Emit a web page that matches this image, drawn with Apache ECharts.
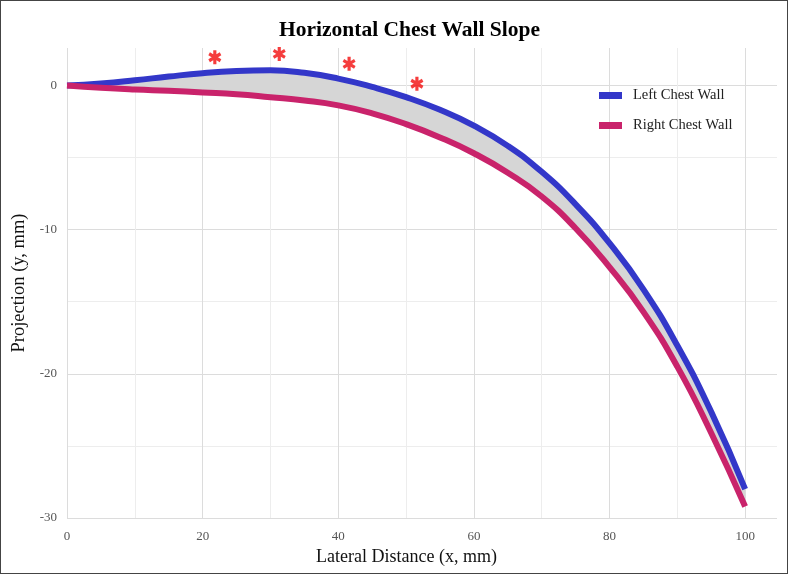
<!DOCTYPE html>
<html>
<head>
<meta charset="utf-8">
<script src="https://cdn.jsdelivr.net/npm/echarts@6/dist/echarts.min.js"></script>
<style>
  html, body { margin: 0; padding: 0; background: #fff; }
  #wrap { position: relative; width: 788px; height: 574px; }
  #chart { width: 788px; height: 574px; }
  #frame { position: absolute; left: 0; top: 0; width: 788px; height: 574px; box-sizing: border-box; border: 1px solid #444; pointer-events: none; }
</style>
</head>
<body>
<div id="wrap">
  <div id="chart"></div>
  <div id="frame"></div>
</div>
<script>
// lateral distance samples (mm)
const xValues = [0, 5, 10, 15, 20, 25, 30, 35, 40, 45, 50, 55, 60, 65, 70, 75, 80, 85, 90, 95, 100];
// projection (mm)
const leftWall = [0, 0.14, 0.36, 0.62, 0.85, 1.0, 1.05, 0.88, 0.48, -0.1, -0.81, -1.69, -2.79, -4.19, -5.99, -8.24, -10.94, -14.14, -18.04, -22.64, -28.0];
const rightWall = [0, -0.16, -0.28, -0.37, -0.48, -0.6, -0.81, -1.04, -1.38, -1.93, -2.68, -3.6, -4.7, -6.05, -7.7, -9.9, -12.6, -15.7, -19.5, -24.1, -29.2];
// significance markers
const starX = [21.8, 31.3, 41.6, 51.6];
const starY = [1.96, 2.19, 1.5, 0.12];

const serif = 'Liberation Serif';
const chart = echarts.init(document.getElementById('chart'));

const leftData = xValues.map((x, i) => [x, leftWall[i]]);
const rightData = xValues.map((x, i) => [x, rightWall[i]]);
const starData = starX.map((x, i) => [x, starY[i]]);

// six-armed asterisk
const starPath = 'path://M38,0L62,0L62,100L38,100Z' +
    'M12.7,85.39L0.7,64.61L87.3,14.61L99.3,35.39Z' +
    'M99.3,64.61L87.3,85.39L0.7,35.39L12.7,14.61Z';

const option = {
    backgroundColor: '#fff',
    animation: false,
    title: {
        text: 'Horizontal Chest Wall Slope',
        left: 274,
        top: 14,
        textStyle: { fontFamily: serif, fontSize: 21.5, fontWeight: 'bold', color: '#000' },
    },
    legend: {
        data: ['Left Chest Wall', 'Right Chest Wall'],
        orient: 'vertical',
        left: 594,
        top: 83,
        padding: 5,
        itemWidth: 23,
        itemHeight: 7,
        itemGap: 15,
        icon: 'rect',
        textStyle: { fontFamily: serif, fontSize: 14.5, color: '#222', padding: [0, 0, 0, 6] },
    },
    grid: { left: 67, right: 11, top: 48, bottom: 56 },
    xAxis: {
        type: 'value',
        min: 0,
        max: 104.7,
        interval: 10,
        name: 'Lateral Distance (x, mm)',
        nameLocation: 'middle',
        nameGap: 24,
        nameTextStyle: { fontFamily: serif, fontSize: 18, color: '#111', padding: [0, 31, 0, 0] },
        axisLine: { show: false },
        axisTick: { show: false },
        axisLabel: {
            margin: 12,
            fontFamily: serif,
            fontSize: 13,
            color: '#555',
            showMaxLabel: false,
            formatter: (v) => (v % 20 === 0 ? String(v) : ''),
        },
        splitLine: {
            show: true,
            showMaxLine: false,
            lineStyle: { color: ['#dcdcdc', '#ededed'], width: 1 },
        },
    },
    yAxis: {
        type: 'value',
        min: -30,
        max: 2.6,
        interval: 5,
        name: 'Projection (y, mm)',
        nameLocation: 'middle',
        nameGap: 34,
        nameTextStyle: { fontFamily: serif, fontSize: 18.5, color: '#111' },
        axisLine: { show: false },
        axisTick: { show: false },
        axisLabel: {
            margin: 10,
            fontFamily: serif,
            fontSize: 13,
            color: '#555',
            showMaxLabel: false,
            formatter: (v) => (v % 10 === 0 ? String(v) : ''),
        },
        splitLine: {
            show: true,
            showMaxLine: false,
            lineStyle: { color: ['#dcdcdc', '#ededed'], width: 1 },
        },
    },
    series: [
        {
            // grey band between the two walls
            name: 'band',
            type: 'custom',
            silent: true,
            data: [[0, 0]],
            renderItem: (params, api) => {
                const pts = leftData.map((d) => api.coord(d));
                for (let i = rightData.length - 1; i >= 0; i--) {
                    pts.push(api.coord(rightData[i]));
                }
                return {
                    type: 'polygon',
                    shape: { points: pts, smooth: 0 },
                    style: { fill: '#d6d6d6' },
                };
            },
            z: 1,
        },
        {
            name: 'Left Chest Wall',
            type: 'line',
            data: leftData,
            smooth: 0.5,
            showSymbol: false,
            lineStyle: { color: '#3337c9', width: 6, cap: 'butt' },
            itemStyle: { color: '#3337c9' },
            z: 2,
        },
        {
            name: 'Right Chest Wall',
            type: 'line',
            data: rightData,
            smooth: 0.5,
            showSymbol: false,
            lineStyle: { color: '#c9236b', width: 6, cap: 'butt' },
            itemStyle: { color: '#c9236b' },
            z: 3,
        },
        {
            name: 'stars',
            type: 'scatter',
            data: starData,
            symbol: starPath,
            symbolSize: [13, 14],
            itemStyle: { color: '#f20d0d' },
            z: 4,
        },
    ],
};

chart.setOption(option);
</script>
</body>
</html>
